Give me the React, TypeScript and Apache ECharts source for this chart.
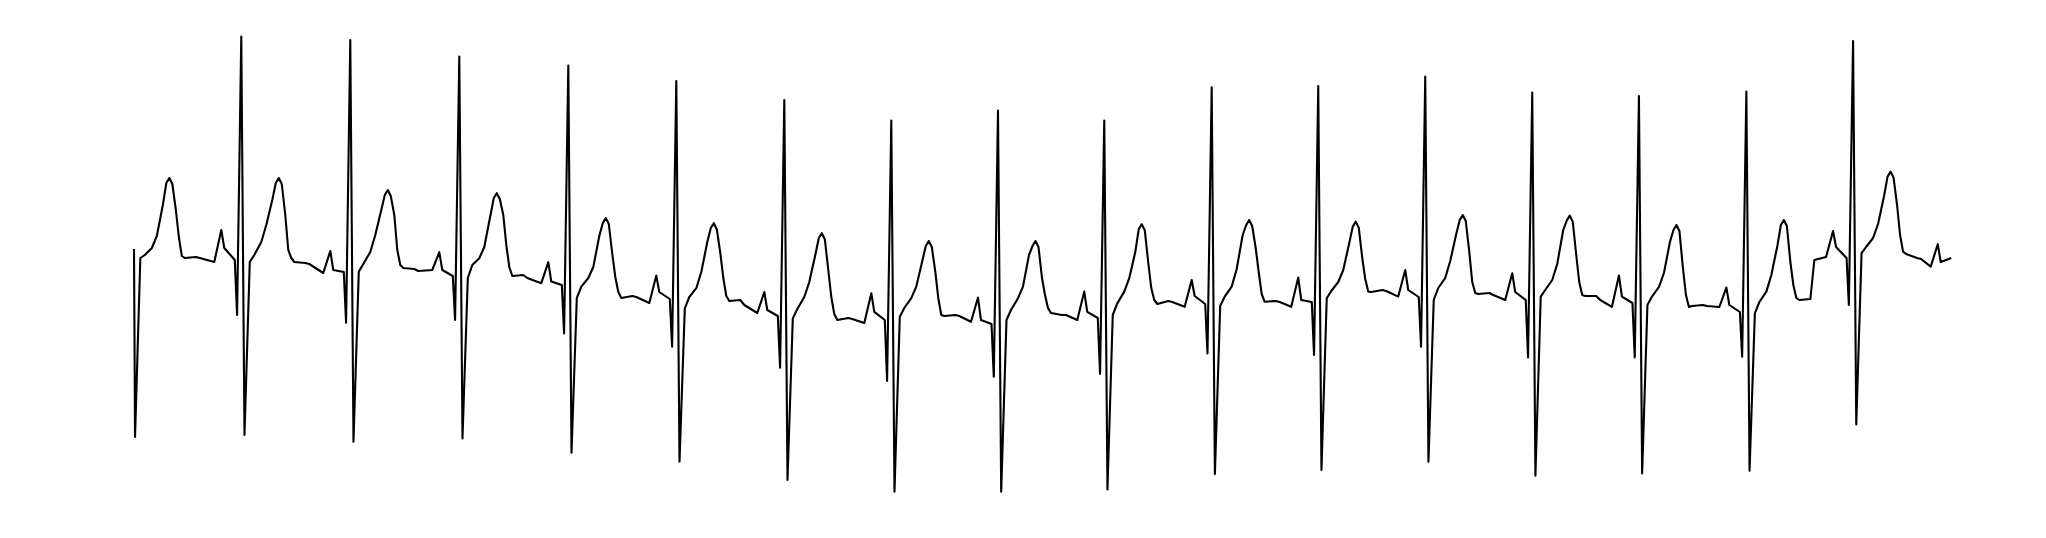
import React, { useEffect, useRef } from "react";
import * as echarts from "echarts";

// Time of each R peak (s). Index 0 is the partial beat cut at the left edge,
// index 17 is the beat whose P wave is cut at the right edge.
const rPeakTimes = [-0.015, 0.745, 1.502, 2.259, 3.016, 3.766, 4.516, 5.259, 6.0, 6.738, 7.484, 8.224, 8.967, 9.71, 10.451, 11.197, 11.938, 12.665];

// Timing of each wave landmark relative to its R peak (s)
const landmarkNames = ["pOnset", "pPeak", "pEnd", "preQ", "q", "r", "s", "j", "stA", "stB", "stC", "tUp", "tRise", "tPeak", "tFall", "tDown", "tEnd1", "tEnd2", "base0", "base1", "base2"];
const landmarkOffsets = [-0.1875, -0.1389, -0.1181, -0.0451, -0.0292, 0, 0.0222, 0.059, 0.0903, 0.1389, 0.1736, 0.2153, 0.2396, 0.2604, 0.2813, 0.3056, 0.3264, 0.3472, 0.3681, 0.4444, 0.4722];

// Amplitudes (mV) per beat
const pOnset = [null, 0.19, 0.135, 0.15, 0.084, -0.015, -0.065, -0.115, -0.109, -0.1, -0.034, -0.034, 0.017, 0, -0.034, -0.035, 0.215, 0.167];
const pPeak = [null, 0.35, 0.245, 0.239, 0.189, 0.122, 0.04, 0.034, 0.012, 0.042, 0.1, 0.112, 0.15, 0.134, 0.122, 0.062, 0.345, 0.279];
const pEnd = [null, 0.26, 0.15, 0.15, 0.092, 0.04, -0.05, -0.059, -0.1, -0.059, 0.02, 0, 0.05, 0.04, 0.017, -0.025, 0.265, 0.19];
const preQ = [null, 0.2, 0.14, 0.12, 0.075, 0.005, -0.08, -0.1, -0.12, -0.09, -0.02, -0.01, 0.015, 0, -0.015, -0.06, 0.21, 0.21];
const qWave = [null, -0.075, -0.114, -0.1, -0.167, -0.234, -0.339, -0.405, -0.384, -0.37, -0.267, -0.275, -0.234, -0.287, -0.287, -0.284, -0.025, null];
const rWave = [null, 1.317, 1.3, 1.217, 1.172, 1.095, 1.0, 0.897, 0.947, 0.897, 1.064, 1.07, 1.117, 1.037, 1.02, 1.042, 1.295, null];
const sWave = [-0.685, -0.675, -0.709, -0.692, -0.764, -0.809, -0.9, -0.959, -0.959, -0.947, -0.87, -0.85, -0.809, -0.879, -0.867, -0.854, -0.622, null];
const jPoint = [0.21, 0.19, 0.142, 0.109, 0.01, -0.042, -0.092, -0.084, -0.1, -0.075, -0.03, 0.009, 0, 0.017, -0.025, -0.067, 0.234, null];
const stA = [0.225, 0.225, 0.18, 0.175, 0.067, 0.015, -0.045, -0.04, -0.05, -0.017, 0.017, 0.045, 0.06, 0.05, 0.017, -0.01, 0.265, null];
const stB = [0.26, 0.29, 0.24, 0.209, 0.11, 0.059, 0.015, 0.009, 0.009, 0.042, 0.067, 0.09, 0.11, 0.1, 0.065, 0.042, 0.31, null];
const stC = [0.32, 0.375, 0.325, 0.265, 0.165, 0.14, 0.09, 0.067, 0.067, 0.109, 0.155, 0.15, 0.195, 0.18, 0.135, 0.125, 0.38, null];
const tUp = [0.475, 0.5, 0.45, 0.42, 0.32, 0.29, 0.225, 0.195, 0.225, 0.24, 0.325, 0.285, 0.33, 0.35, 0.29, 0.27, 0.52, null];
const tRise = [0.585, 0.585, 0.525, 0.51, 0.385, 0.36, 0.31, 0.27, 0.27, 0.355, 0.375, 0.367, 0.4, 0.397, 0.35, 0.375, 0.617, null];
const tPeak = [0.61, 0.61, 0.55, 0.534, 0.41, 0.384, 0.334, 0.295, 0.295, 0.379, 0.4, 0.392, 0.425, 0.422, 0.375, 0.4, 0.642, null];
const tFall = [0.58, 0.58, 0.52, 0.505, 0.38, 0.354, 0.304, 0.265, 0.265, 0.349, 0.37, 0.362, 0.395, 0.392, 0.345, 0.37, 0.612, null];
const tDown = [0.45, 0.425, 0.425, 0.425, 0.23, 0.235, 0.15, 0.142, 0.11, 0.185, 0.26, 0.21, 0.242, 0.225, 0.159, 0.19, 0.475, null];
const tEnd1 = [0.315, 0.25, 0.25, 0.275, 0.115, 0.11, 0.015, 0.009, 0.025, 0.06, 0.14, 0.105, 0.09, 0.09, 0.025, 0.075, 0.325, null];
const tEnd2 = [0.22, 0.21, 0.175, 0.165, 0.04, 0.02, -0.07, -0.075, -0.04, 0, 0.03, 0.042, 0.035, 0.025, -0.035, 0.01, 0.242, null];
const base0 = [0.21, 0.19, 0.16, 0.12, 0.01, -0.005, -0.1, -0.08, -0.065, -0.02, -0.009, 0.04, 0.03, 0.02, -0.03, 0, 0.23, null];
const base1 = [0.215, 0.185, 0.155, 0.125, 0.02, 0, -0.09, -0.075, -0.075, -0.005, -0.005, 0.05, 0.035, 0.02, -0.025, 0.005, 0.21, null];
const base2 = [0.21, 0.18, 0.145, 0.11, 0.015, -0.025, -0.095, -0.08, -0.075, -0.01, -0.01, 0.045, 0.025, 0, -0.03, 0.2, 0.205, null];

// First sample of the record (t = 0 s), on the falling edge of a QRS
const traceStart = 0.255;

const landmarkValues = [pOnset, pPeak, pEnd, preQ, qWave, rWave, sWave, jPoint, stA, stB, stC, tUp, tRise, tPeak, tFall, tDown, tEnd1, tEnd2, base0, base1, base2];

function buildTrace(): [number, number][] {
  const pts: [number, number][] = [[0, traceStart]];
  rPeakTimes.forEach((rt, k) => {
    landmarkValues.forEach((arr, i) => {
      const v = arr[k];
      if (v === null || v === undefined) return;
      pts.push([+(rt + landmarkOffsets[i]).toFixed(4), v]);
    });
  });
  return pts;
}

export default function App() {
  const ref = useRef<HTMLDivElement>(null);
  useEffect(() => {
    document.body.style.margin = "0";
    if (!ref.current) return;
    const chart = echarts.init(ref.current, undefined, { renderer: "svg" });
    chart.setOption({
      animation: false,
      backgroundColor: "#ffffff",
      grid: { left: 134, right: 93, top: 0, bottom: 0 },
      xAxis: { type: "value", min: 0, max: 12.632, show: false },
      yAxis: { type: "value", min: -1.19, max: 1.5, show: false },
      series: [
        {
          name: "ECG",
          type: "line",
          data: buildTrace(),
          showSymbol: false,
          symbol: "none",
          silent: true,
          lineStyle: { color: "#000000", width: 2.1, join: "round" },
        },
      ],
    });
    return () => chart.dispose();
  }, []);
  return <div ref={ref} style={{ width: 2046, height: 538 }} />;
}
